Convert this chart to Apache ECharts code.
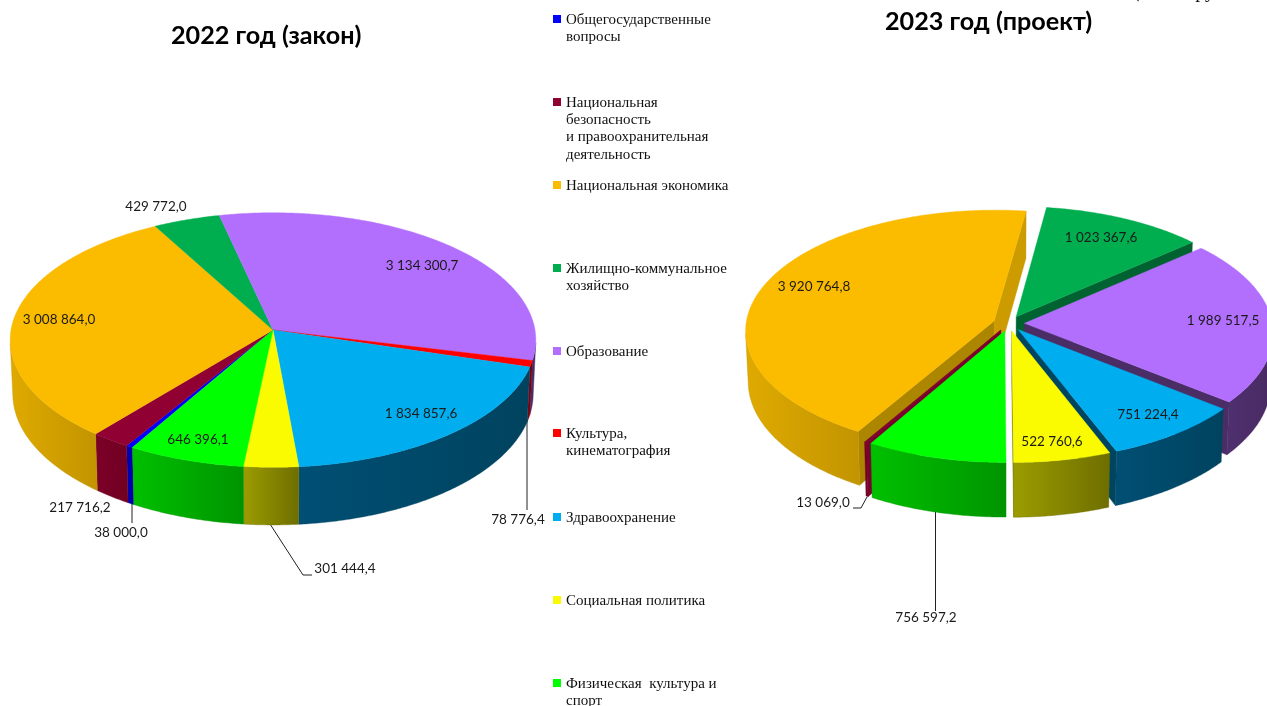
<!DOCTYPE html>
<html lang="ru">
<head>
	<meta charset="UTF-8">
	<title>Расходы бюджета</title>
	<style type="text/css">
		html, body{ margin: 0; padding: 0; background: #fff; }
		#chart{ width: 1267px; height: 706px; }
	</style>
</head>
<body>
	<div id="chart"></div>
	<script type="text/javascript" src="https://cdn.jsdelivr.net/npm/echarts@6/dist/echarts.min.js"></script>
	<script type="text/javascript">
		// данные
		var categories = [
			'Общегосударственные\nвопросы',
			'Национальная\nбезопасность\nи правоохранительная\nдеятельность',
			'Национальная экономика',
			'Жилищно-коммунальное\nхозяйство',
			'Образование',
			'Культура,\nкинематография',
			'Здравоохранение',
			'Социальная политика',
			'Физическая  культура и\nспорт'
		];
		var values2022 = [38000.0, 217716.2, 3008864.0, 429772.0, 3134300.7, 78776.4, 1834857.6, 301444.4, 646396.1];
		var values2023 = [0, 13069.0, 3920764.8, 1023367.6, 1989517.5, 0, 751224.4, 522760.6, 756597.2];

		// цвета
		var topColors = ['#0000ff', '#910033', '#fbbc00', '#00ad4f', '#b26ffe', '#ff0000', '#00aeef', '#fafa00', '#00ff00'];
		var wallColors = [
			['#0000b8', '#0000a8'],
			['#7c0028', '#700022'],
			['#dfaa00', '#c29400'],
			['#00703a', '#00602f'],
			['#4f3070', '#482a62'],
			['#8a0010', '#700010'],
			['#004f74', '#00435f'],
			['#9c9c00', '#6e6e00'],
			['#00c000', '#009400']
		];
		// боковые грани выдвинутых секторов: [начальная, конечная]
		var cutColors = [
			['#0000a8', '#0000a8'],
			['#7a0030', '#7a0030'],
			['#ad8600', '#cb9b00'],
			['#006230', '#006230'],
			['#4b2d66', '#4b2d66'],
			['#700010', '#700010'],
			['#00455f', '#00455f'],
			['#7c7c00', '#7c7c00'],
			['#009400', '#009400']
		];

		// расположение
		var legendRows = [20, 103, 186, 269, 352, 434, 518, 601, 684];
		var labels2022 = [[121, 533], [80, 508], [59, 320], [156, 207], [422, 266], [518, 520], [421, 414], [345, 569], [198, 440]];
		var labels2023 = [null, [823, 503], [814, 287], [1101, 238], [1223, 321], null, [1148, 415], [1052, 442], [926, 618]];
		var leaders2022 = [
			[[132, 503], [132, 523]],
			[[527, 420], [527, 510]],
			[[270, 524], [303, 575], [312, 575]]
		];
		var leaders2023 = [
			[[853, 508], [861, 508], [867, 497]],
			[[935.5, 512], [935.5, 611]]
		];
		var FIRST_ANGLE = 210;

		function formatValue(v){
			var parts = v.toFixed(1).split('.');
			return parts[0].replace(/\B(?=(\d{3})+$)/g, ' ') + ',' + parts[1];
		}

		function getPie(pie){
			var total = pie.values.reduce(function (a, b){ return a + b; }, 0);
			var angle = FIRST_ANGLE;
			var slices = pie.values.map(function (v){
				var a0 = angle;
				angle += v / total * 360;
				var mid = (a0 + angle) / 2 * Math.PI / 180;
				return {a0: a0, a1: angle, ox: pie.explode * Math.sin(mid), oy: -pie.explode * Math.cos(mid)};
			});
			// сзади наперёд
			var order = slices.map(function (s, i){ return i; }).sort(function (a, b){
				return slices[a].oy - slices[b].oy;
			});

			function project(u, v, low){
				var w = 1 - pie.persp * v;
				if(low){
					return [pie.cx + pie.rx * 0.99 * u / w, pie.cy + pie.depth + pie.ry * 1.03 * v / w];
				}
				return [pie.cx + pie.rx * u / w, pie.cy + pie.ry * v / w];
			}
			function rim(s, deg, low){
				var r = deg * Math.PI / 180;
				return project(s.ox + Math.sin(r), s.oy - Math.cos(r), low);
			}
			function area(q){
				var sum = 0;
				q.forEach(function (p, i){
					var n = q[(i + 1) % q.length];
					sum += p[0] * n[1] - n[0] * p[1];
				});
				return sum;
			}
			function gradient(c){
				return {type: 'linear', x: 0, y: 0, x2: 1, y2: 0, colorStops: [{offset: 0, color: c[0]}, {offset: 1, color: c[1]}]};
			}

			return function (params, api){
				var i = params.dataIndex;
				var s = slices[i];
				if(api.value(0) <= 0){
					return null;
				}
				var rank = order.indexOf(i) * 10;
				var children = [];
				var steps = Math.max(2, Math.ceil((s.a1 - s.a0) * 2));
				var face = [], run = [];
				for(var k = 0; k <= steps; k++){
					face.push(rim(s, s.a0 + (s.a1 - s.a0) * k / steps));
				}
				// внешняя стенка
				for(k = 0; k < steps; k++){
					var d0 = s.a0 + (s.a1 - s.a0) * k / steps;
					var d1 = s.a0 + (s.a1 - s.a0) * (k + 1) / steps;
					if(area([rim(s, d0), rim(s, d1), rim(s, d1, true), rim(s, d0, true)]) < 0){
						if(!run.length){ run.push(d0); }
						run.push(d1);
					}
				}
				if(run.length){
					var wall = run.map(function (d){ return rim(s, d); })
						.concat(run.slice().reverse().map(function (d){ return rim(s, d, true); }));
					children.push({
						type: 'polygon', z2: rank + 2, shape: {points: wall},
						style: {fill: gradient(wallColors[i]), stroke: wallColors[i][1], lineWidth: 0.4}
					});
				}
				// грани у центра
				if(pie.explode > 0){
					var apex = project(s.ox, s.oy), apexLow = project(s.ox, s.oy, true);
					var cuts = [
						[apex, rim(s, s.a0), rim(s, s.a0, true), apexLow],
						[rim(s, s.a1), apex, apexLow, rim(s, s.a1, true)]
					];
					cuts.forEach(function (q, n){
						if(area(q) < 0){
							children.push({
								type: 'polygon', z2: rank + 1, shape: {points: q},
								style: {fill: cutColors[i][n], stroke: cutColors[i][n], lineWidth: 0.4}
							});
						}
					});
					face.push(apex);
				}else{
					face.push(project(0, 0));
				}
				// совсем узкий сектор виден только как тёмная грань
				var fill = s.a1 - s.a0 < 1 ? cutColors[i][0] : topColors[i];
				children.push({
					type: 'polygon', z2: rank + 3, shape: {points: face},
					style: {fill: fill, stroke: fill, lineWidth: 0.4}
				});
				// подпись
				var at = pie.labels[i];
				if(at){
					children.push({
						type: 'text', z2: 1000, x: at[0], y: at[1],
						style: {text: formatValue(api.value(0)), fill: '#1a1a1a', align: 'center', verticalAlign: 'middle', font: '13.5px Lato, "Noto Sans", sans-serif'}
					});
				}
				return {type: 'group', children: children};
			};
		}

		var pie2022 = {values: values2022, labels: labels2022, cx: 273, cy: 330, rx: 262, ry: 126.5, persp: 0.0787, depth: 53.5, explode: 0};
		var pie2023 = {values: values2023, labels: labels2023, cx: 1008.8, cy: 323.5, rx: 248, ry: 120, persp: 0.0787, depth: 50.5, explode: 0.063};

		function getSeries(pie){
			return {
				type: 'custom',
				coordinateSystem: 'none',
				silent: true,
				renderItem: getPie(pie),
				data: pie.values.map(function (v){ return [v]; })
			};
		}

		var graphics = [];
		categories.forEach(function (name, i){
			graphics.push({type: 'rect', x: 553, y: legendRows[i] - 5, shape: {width: 8, height: 8}, style: {fill: topColors[i]}});
			graphics.push({
				type: 'text', x: 566, y: legendRows[i] - 9,
				style: {text: name, fill: '#111', font: '15px "Liberation Serif", serif', lineHeight: 17.4}
			});
		});
		leaders2022.concat(leaders2023).forEach(function (points){
			graphics.push({type: 'polyline', shape: {points: points}, style: {stroke: '#222', lineWidth: 1, fill: null}});
		});
		graphics.push({
			type: 'text', x: 1133, y: -18,
			style: {text: '(в тыс. руб.', fill: '#111', font: '20px "Liberation Serif", serif'}
		});

		var myChart = echarts.init(document.getElementById('chart'));
		myChart.setOption({
			backgroundColor: '#fff',
			animation: false,
			title: [
				{text: '2022 год (закон)', left: 166, top: 18, textStyle: {fontFamily: 'Lato, "Noto Sans", sans-serif', fontWeight: 'bold', fontSize: 25.2, color: '#000'}},
				{text: '2023 год (проект)', left: 880, top: 4, textStyle: {fontFamily: 'Lato, "Noto Sans", sans-serif', fontWeight: 'bold', fontSize: 25.2, color: '#000'}}
			],
			graphic: graphics,
			series: [getSeries(pie2022), getSeries(pie2023)]
		});
	</script>
</body>
</html>
